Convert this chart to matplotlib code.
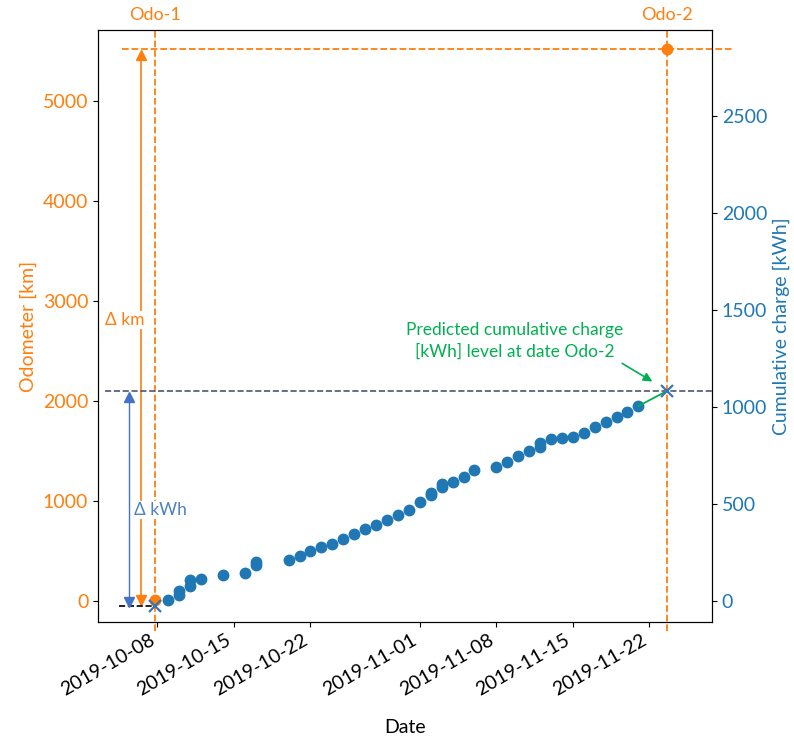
import pandas as pd
import matplotlib
matplotlib.use("Agg")
import matplotlib.pyplot as plt
import matplotlib.dates as mdates

plt.rcParams["font.family"] = ["Lato", "DejaVu Sans"]

orange = "#ff7f0e"
blue = "#1f77b4"
green = "#00b050"
dk_blue = "#4472c4"

# cumulative charge log
charge_dates = [
    "2019-10-09", "2019-10-10", "2019-10-10", "2019-10-11", "2019-10-11",
    "2019-10-12", "2019-10-14", "2019-10-16", "2019-10-17", "2019-10-17",
    "2019-10-20", "2019-10-21", "2019-10-22", "2019-10-23", "2019-10-24",
    "2019-10-25", "2019-10-26", "2019-10-27", "2019-10-28", "2019-10-29",
    "2019-10-30", "2019-10-31", "2019-11-01", "2019-11-02", "2019-11-02",
    "2019-11-03", "2019-11-03", "2019-11-04", "2019-11-05", "2019-11-06",
    "2019-11-08", "2019-11-09", "2019-11-10", "2019-11-11", "2019-11-12",
    "2019-11-12", "2019-11-13", "2019-11-14", "2019-11-15", "2019-11-16",
    "2019-11-17", "2019-11-18", "2019-11-19", "2019-11-20", "2019-11-21",
]
charge_kwh = [
    5, 31, 52, 77, 108,
    113, 134, 144, 186, 201,
    214, 232, 258, 278, 294,
    320, 345, 371, 392, 418,
    443, 469, 510, 546, 557,
    588, 603, 613, 639, 675,
    693, 716, 747, 773, 794,
    814, 835, 840, 845, 866,
    897, 923, 948, 974, 1005,
]

# odometer readings and predicted charge at those dates
odo_labels = ["Odo-1", "Odo-2"]
odo_dates = ["2019-10-07 18:00", "2019-11-23 14:00"]
odo_km = [15, 5520]
odo_kwh = [-25, 1082]

charge_dates = pd.to_datetime(charge_dates)
odo_dates = pd.to_datetime(odo_dates)
base = pd.Timestamp("2019-10-08")


def day(x):
    return base + pd.Timedelta(days=x)


fig = plt.figure(figsize=(7.94, 7.42), dpi=100)
ax1 = fig.add_axes([0.1234, 0.1617, 0.7733, 0.7979])
ax2 = ax1.twinx()

# odometer side
ax1.plot(odo_dates, odo_km, "o", color=orange, ms=7.5, zorder=4)
for d, lab in zip(odo_dates, odo_labels):
    ax1.axvline(d, ymin=-0.015, ymax=1.0, color=orange, ls="--", lw=1.3, clip_on=False)
    ax1.text(d, 1.025, lab, color=orange, fontsize=13, ha="center", va="center",
             transform=ax1.get_xaxis_transform())
ax1.plot([day(-3.2), day(52.6)], [odo_km[1], odo_km[1]], "--", color=orange, lw=1.3, clip_on=False)

xkm = day(-1.5)
ax1.plot([xkm, xkm], [odo_km[0], 5460], color=orange, lw=1.2)
ax1.plot(xkm, 5460, "^", color=orange, ms=7)
ax1.plot(xkm, 10, "v", color=orange, ms=7)
ax1.text(day(-3.0), 2810, "Δ km", color=orange, fontsize=12.5, ha="center", va="center",
         bbox=dict(facecolor="white", edgecolor="none", pad=1))

# charge side
ax2.plot(charge_dates, charge_kwh, "o", color=blue, ms=7.5, zorder=3)
ax2.plot([charge_dates[-1], odo_dates[1]], [charge_kwh[-1], odo_kwh[1]], color=green, lw=1.3, zorder=4)
ax2.plot(odo_dates, odo_kwh, "x", color="#3a75b0", ms=8, mew=1.6, zorder=5)
ax2.plot([day(-4.8), day(50.7)], [odo_kwh[1], odo_kwh[1]], "--", color="#4d5670", lw=1.2)
ax2.plot([day(-3.5), odo_dates[0]], [odo_kwh[0], odo_kwh[0]], "--", color="black", lw=1.2)

xkwh = day(-2.6)
ax2.plot([xkwh, xkwh], [-5, 1052], color=dk_blue, lw=1.0)
ax2.plot(xkwh, 1052, "^", color=dk_blue, ms=7)
ax2.plot(xkwh, -5, "v", color=dk_blue, ms=7)
ax2.text(day(0.25), 469, "Δ kWh", color="#4f81bd", fontsize=12.5, ha="center", va="center",
         bbox=dict(facecolor="white", edgecolor="none", pad=1))

ax2.annotate("", xy=(day(45.5), 1124), xytext=(day(42.3), 1232),
             arrowprops=dict(arrowstyle="-|>", color=green, lw=1.2, mutation_scale=13))
ax2.text(day(32.7), 1340, "Predicted cumulative charge\n[kWh] level at date Odo-2",
         color=green, fontsize=12.5, ha="center", va="center", linespacing=1.45)

ax1.set_xlim(day(-5.44), day(50.73))
ax1.set_ylim(-210, 5710)
ax2.set_ylim(-108, 2943)

ax1.set_yticks([0, 1000, 2000, 3000, 4000, 5000])
ax2.set_yticks([0, 500, 1000, 1500, 2000, 2500])
ax1.tick_params(axis="y", labelcolor=orange, labelsize=14)
ax2.tick_params(axis="y", labelcolor=blue, labelsize=14)

tick_dates = pd.to_datetime(["2019-10-08", "2019-10-15", "2019-10-22", "2019-11-01",
                             "2019-11-08", "2019-11-15", "2019-11-22"])
ax1.set_xticks(tick_dates)
ax1.xaxis.set_major_formatter(mdates.DateFormatter("%Y-%m-%d"))
ax1.tick_params(axis="x", labelsize=14)
for label in ax1.get_xticklabels():
    label.set_rotation(30)
    label.set_horizontalalignment("right")

ax1.set_ylabel("Odometer [km]", color=orange, fontsize=14)
ax2.set_ylabel("Cumulative charge [kWh]", color=blue, fontsize=14)
ax1.set_xlabel("Date", fontsize=14, labelpad=14)

fig.savefig("out.png", dpi=100)
